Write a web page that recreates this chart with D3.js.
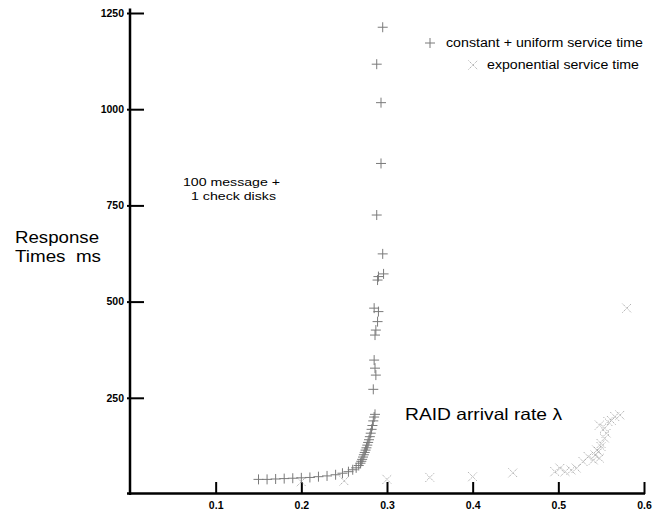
<!doctype html>
<html>
<head>
<meta charset="utf-8"/>
<title>RAID response times</title>
<style>
body{margin:0;background:#fff;}
text{font-family:"Liberation Sans",Arial,sans-serif;white-space:pre;}
</style>
<script src="https://d3js.org/d3.v7.min.js"></script>
</head>
<body>
<script type="text/javascript">
// arrival rate / response time (ms), constant + uniform service time
var constRate = [0.150,0.160,0.170,0.180,0.190,0.200,0.210,0.220,0.230,0.240,0.248,0.255,0.260,0.264,0.267,0.269,0.270,0.271,0.272,0.273,0.274,0.275,0.276,0.277,0.278,0.279,0.280,0.281,0.282,0.283,0.284,0.285,0.286,
  0.284,0.287,0.286,0.285,0.286,0.287,0.289,0.285,0.290,0.289,0.290,0.296,0.295,0.288,0.293,0.293,0.288,0.295];
var constResp = [38,38,39,40,41,42,43,45,47,50,54,58,63,68,74,80,85,90,96,102,108,114,120,127,134,141,149,158,168,178,190,200,207,
  272,309,327,348,413,426,448,483,474,556,565,572,624,725,859,1017,1117,1213];

// exponential service time
var expRate = [0.200,0.250,0.300,0.350,0.400,0.447,0.496,0.502,0.508,0.515,0.521,0.529,0.535,0.541,0.543,0.545,0.547,0.548,0.550,0.550,0.554,0.554,0.556,0.548,0.558,0.562,0.566,0.572,0.580];
var expResp = [32,34,38,43,45,55,58,67,58,62,67,84,97,88,101,114,110,93,123,131,145,171,158,179,188,191,201,205,483];

var xTicks = [0.1,0.2,0.3,0.4,0.5,0.6];
var yTicks = [250,500,750,1000,1250];

var svg = d3.select("body").append("svg")
  .attr("width",665).attr("height",514);

var x = d3.scaleLinear().domain([0,0.6]).range([130,644]);
var y = d3.scaleLinear().domain([0,1250]).range([494,13]);

// axes
var yAxis = d3.axisLeft(y).tickValues(yTicks).tickSize(-14).tickSizeOuter(0).tickPadding(6)
  .tickFormat(d3.format("d"));
var gy = svg.append("g").attr("transform","translate(130,0)").call(yAxis);
gy.select(".domain").remove();
gy.selectAll(".tick line").attr("stroke","#000").attr("stroke-width",2).attr("x1",-3);
gy.selectAll(".tick text").attr("font-size",10.5).attr("font-weight","bold")
  .attr("font-family","'Liberation Sans',Arial,sans-serif").attr("fill","#000");

var xAxis = d3.axisBottom(x).tickValues(xTicks).tickSize(-12).tickSizeOuter(0).tickPadding(8)
  .tickFormat(d3.format(".1f"));
var gx = svg.append("g").attr("transform","translate(0,494)").call(xAxis);
gx.select(".domain").remove();
gx.selectAll(".tick line").attr("stroke","#000").attr("stroke-width",2);
gx.selectAll(".tick text").attr("font-size",10.5).attr("font-weight","bold")
  .attr("font-family","'Liberation Sans',Arial,sans-serif").attr("fill","#000");

svg.append("line").attr("x1",130).attr("x2",130).attr("y1",y(1262)).attr("y2",y(0)+1)
  .attr("stroke","#000").attr("stroke-width",2.5);
svg.append("line").attr("x1",x(0)-3).attr("x2",x(0.6)+1).attr("y1",y(0)-0.5).attr("y2",y(0)-0.5)
  .attr("stroke","#000").attr("stroke-width",2.5);

// markers
function plus(g,cx,cy){
  g.append("path").attr("d","M"+(cx-5)+","+cy+"H"+(cx+5)+"M"+cx+","+(cy-5)+"V"+(cy+5))
    .attr("stroke","#7a7a7a").attr("stroke-width",1).attr("fill","none");
}
function cross(g,cx,cy){
  g.append("path").attr("d","M"+(cx-4.5)+","+(cy-4.5)+"L"+(cx+4.5)+","+(cy+4.5)+"M"+(cx-4.5)+","+(cy+4.5)+"L"+(cx+4.5)+","+(cy-4.5))
    .attr("stroke","#a8a8a8").attr("stroke-width",1).attr("stroke-dasharray","1.2,1").attr("fill","none");
}

var gExp = svg.append("g");
expRate.forEach(function(d,i){ cross(gExp, x(d), y(expResp[i])); });
var gConst = svg.append("g");
constRate.forEach(function(d,i){ plus(gConst, x(d), y(constResp[i])); });

// legend
plus(svg,430,43);
svg.append("text").attr("x",446).attr("y",47).attr("font-size",12.5)
  .attr("textLength",197).attr("lengthAdjust","spacingAndGlyphs").text("constant + uniform service time");
cross(svg,473,65);
svg.append("text").attr("x",487).attr("y",69).attr("font-size",12.5)
  .attr("textLength",152).attr("lengthAdjust","spacingAndGlyphs").text("exponential service time");

// labels
svg.append("text").attr("x",183).attr("y",186).attr("font-size",11.5)
  .attr("textLength",97).attr("lengthAdjust","spacingAndGlyphs").text("100 message +");
svg.append("text").attr("x",191).attr("y",199.5).attr("font-size",11.5)
  .attr("textLength",85).attr("lengthAdjust","spacingAndGlyphs").text("1 check disks");

svg.append("text").attr("x",15).attr("y",243).attr("font-size",16)
  .attr("textLength",84).attr("lengthAdjust","spacingAndGlyphs").text("Response");
svg.append("text").attr("x",15).attr("y",262).attr("font-size",16)
  .attr("textLength",86).attr("lengthAdjust","spacingAndGlyphs").text("Times  ms");

svg.append("text").attr("x",405).attr("y",420).attr("font-size",16.5)
  .attr("textLength",157).attr("lengthAdjust","spacingAndGlyphs").text("RAID arrival rate \u03bb");
</script>
</body>
</html>
